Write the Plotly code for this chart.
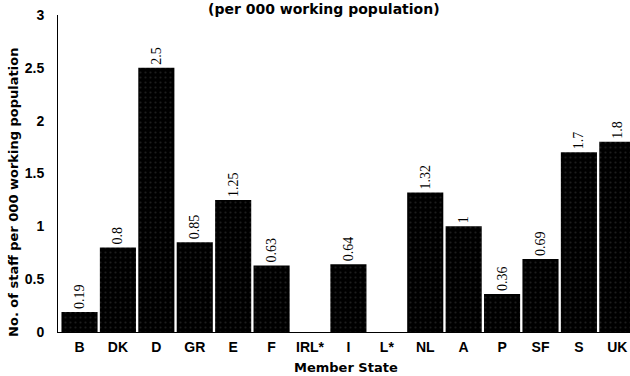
import plotly.graph_objects as go

# Staff per thousand working population, by Member State
states = ["B", "DK", "D", "GR", "E", "F", "IRL*", "I", "L*", "NL", "A", "P", "SF", "S", "UK"]
staff = [0.19, 0.8, 2.5, 0.85, 1.25, 0.63, None, 0.64, None, 1.32, 1, 0.36, 0.69, 1.7, 1.8]
value_labels = ["0.19", "0.8", "2.5", "0.85", "1.25", "0.63", "", "0.64", "", "1.32", "1", "0.36", "0.69", "1.7", "1.8"]

y_ticks = [0, 0.5, 1, 1.5, 2, 2.5, 3]
y_tick_text = ["0", "0.5", "1", "1.5", "2", "2.5", "3"]

title_text = "(per 000 working population)"
y_title = "No. of staff per 000 working population"
x_title = "Member State"

SANS = "Liberation Sans, Arial, sans-serif"
WIDE = "DejaVu Sans, Verdana, sans-serif"
SERIF = "Liberation Serif, Times New Roman, serif"

fig = go.Figure(
    go.Bar(
        x=list(range(len(states))),
        y=staff,
        text=value_labels,
        textposition="outside",
        textangle=-90,
        constraintext="none",
        cliponaxis=False,
        textfont=dict(family=SERIF, size=14, color="black"),
        marker=dict(
            color="black",
            line=dict(width=0),
            pattern=dict(shape=".", fgcolor="#3a3a3a", bgcolor="black", size=5, solidity=0.15),
        ),
        hoverinfo="skip",
    )
)

fig.update_layout(
    width=630,
    height=376,
    margin=dict(l=58, r=0, t=15, b=44),
    paper_bgcolor="white",
    plot_bgcolor="white",
    showlegend=False,
    bargap=0.06,
    font=dict(family=SANS, size=13, color="black"),
)

fig.update_xaxes(
    range=[-0.56, 14.33],
    tickvals=list(range(len(states))),
    ticktext=states,
    tickfont=dict(family=SANS, size=14, color="black", weight="bold"),
    showgrid=False,
    zeroline=False,
    showline=True,
    linecolor="black",
    linewidth=1,
    ticks="",
    ticklabelstandoff=2,
)

fig.update_yaxes(
    range=[0, 3],
    tickvals=y_ticks,
    ticktext=y_tick_text,
    tickfont=dict(family=SANS, size=14, color="black", weight="bold"),
    showgrid=False,
    zeroline=False,
    showline=True,
    linecolor="black",
    linewidth=1,
    ticks="",
    ticklabelstandoff=10,
)

# Heading along the top edge
fig.add_annotation(
    text=title_text, xref="paper", yref="paper", x=0.465, y=1, yshift=6,
    xanchor="center", yanchor="middle", showarrow=False,
    font=dict(family=WIDE, size=14, color="black", weight="bold"),
)

# Axis titles
fig.add_annotation(
    text=y_title, xref="paper", yref="paper", x=-0.078, y=0.44,
    xanchor="center", yanchor="middle", textangle=-90, showarrow=False,
    font=dict(family=WIDE, size=13, color="black", weight="bold"),
)
fig.add_annotation(
    text=x_title, xref="paper", yref="paper", x=0.503, y=0, yshift=-35,
    xanchor="center", yanchor="middle", showarrow=False,
    font=dict(family=WIDE, size=13, color="black", weight="bold"),
)

fig.write_html("out.html")
